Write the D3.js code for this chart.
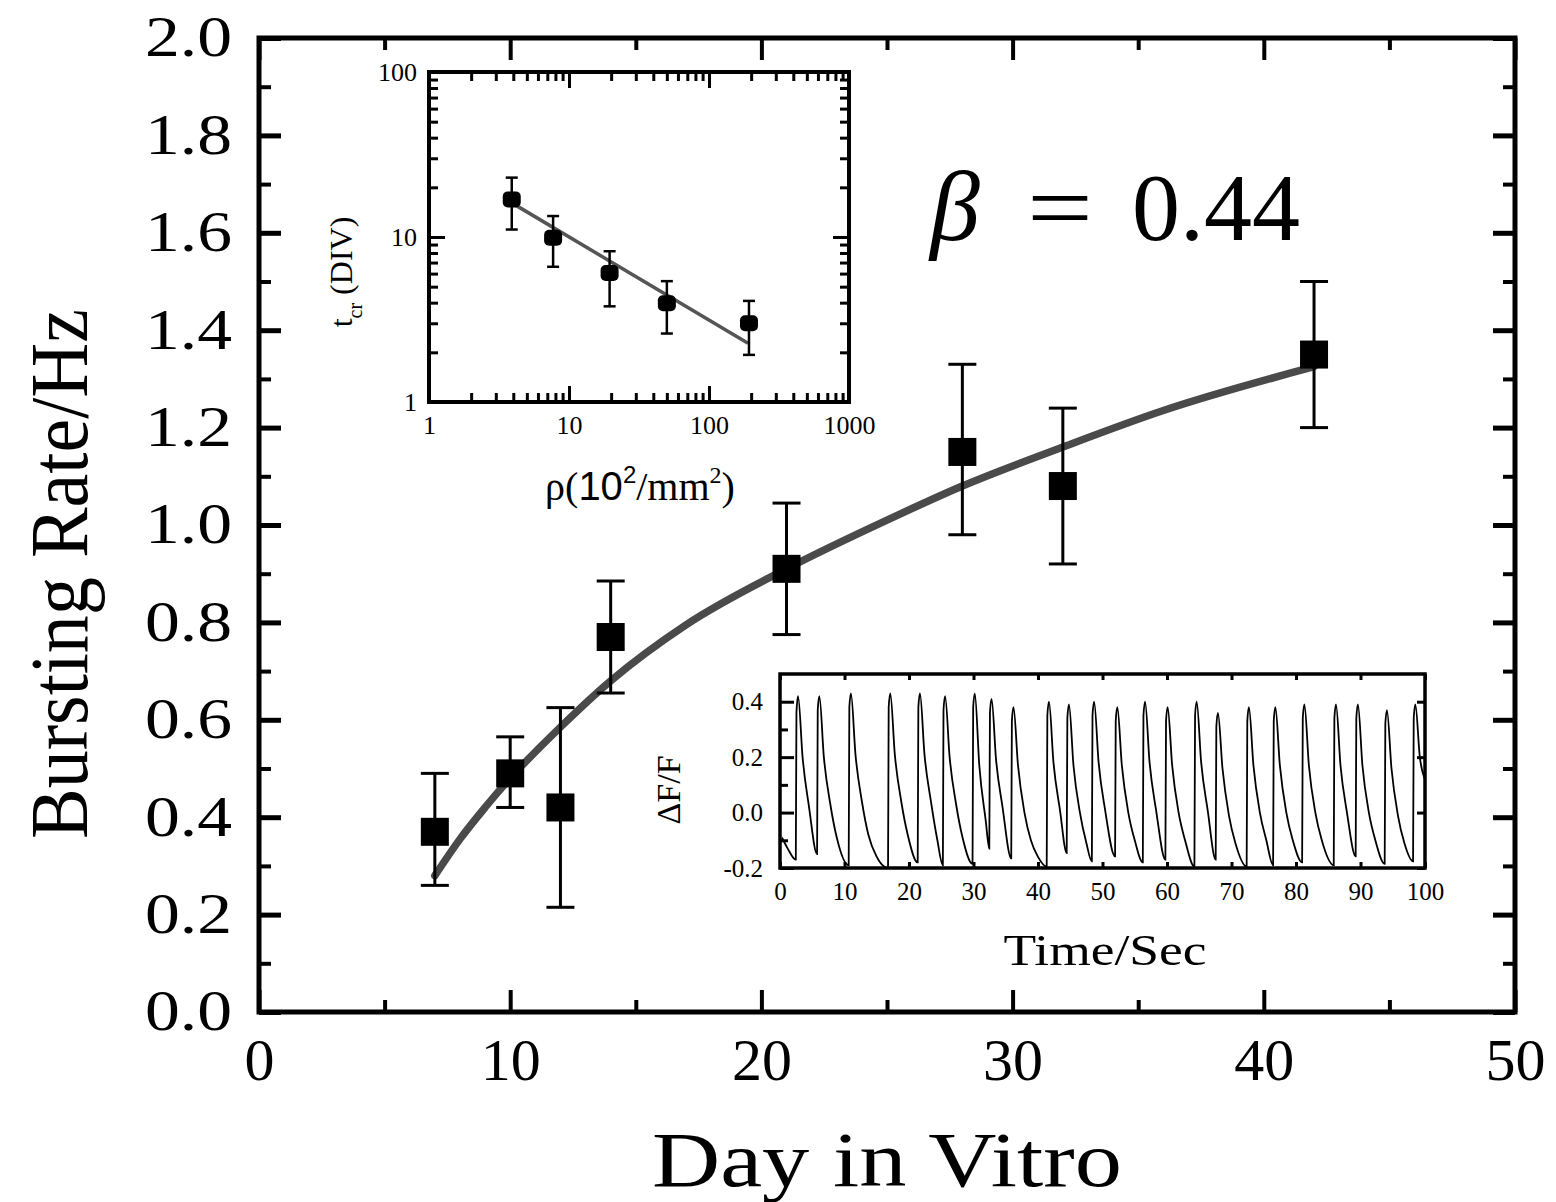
<!DOCTYPE html>
<html>
<head>
<meta charset="utf-8">
<script src="https://cdn.jsdelivr.net/npm/d3@7"></script>
<style>
body{margin:0;background:#fff;}
svg{display:block;background:#fff;}
text{fill:#000;}
</style>
</head>
<body>
<svg id="chart" width="1556" height="1202"></svg>
<script>
// main panel: bursting rate vs day in vitro
const days = [7, 10, 12, 14, 21, 28, 32, 42];
const rate = [0.37, 0.49, 0.42, 0.77, 0.91, 1.15, 1.08, 1.35];
const rateLo = [0.26, 0.42, 0.215, 0.655, 0.775, 0.98, 0.92, 1.20];
const rateHi = [0.49, 0.565, 0.625, 0.885, 1.045, 1.33, 1.24, 1.50];
const fitDay = [7, 8, 9, 10, 12, 14, 17, 21, 25, 28, 32, 36, 42];
const fitRate = [0.28, 0.355, 0.42, 0.48, 0.585, 0.68, 0.795, 0.91, 1.01, 1.08, 1.16, 1.235, 1.325];
const dayTicks = [0, 10, 20, 30, 40, 50];
const dayMinor = [5, 15, 25, 35, 45];
const rateTicks = [0, 0.2, 0.4, 0.6, 0.8, 1.0, 1.2, 1.4, 1.6, 1.8, 2.0];
const rateMinor = [0.1, 0.3, 0.5, 0.7, 0.9, 1.1, 1.3, 1.5, 1.7, 1.9];

// inset 1: t_cr vs density (log-log)
const density = [3.9, 7.7, 19.5, 50, 193];
const tcr = [16.9, 9.9, 6.05, 3.97, 3.0];
const tcrLo = [11.1, 6.6, 3.8, 2.6, 1.93];
const tcrHi = [22.9, 13.4, 8.2, 5.4, 4.1];
const lineDensity = [3.9, 190];
const lineTcr = [16.1, 2.27];
const decades = [1, 10, 100, 1000];
const logSteps = [2, 3, 4, 5, 6, 7, 8, 9];

// inset 2: calcium trace dF/F vs time, [sec, dF/F]
const trace = [
  [0.3,-0.09],[1.2,-0.13],[2.45,-0.17],
  [2.55,0.36],[2.8,0.42],[3.5,0.2],[4.5,0.02],[5.75,-0.15],
  [5.85,0.37],[6.1,0.42],[6.8,0.2],[7.8,0.03],[8.8,-0.09],[10.65,-0.19],
  [10.75,0.38],[11.0,0.43],[11.7,0.21],[12.7,0.04],[13.7,-0.08],[15.0,-0.16],[16.75,-0.2],
  [16.85,0.38],[17.1,0.43],[17.8,0.21],[18.8,0.04],[19.8,-0.08],[21.35,-0.18],
  [21.45,0.38],[21.7,0.43],[22.4,0.21],[23.4,0.04],[24.4,-0.1],[25.25,-0.19],
  [25.35,0.37],[25.6,0.42],[26.3,0.2],[27.3,0.03],[28.3,-0.09],[29.85,-0.185],
  [29.95,0.38],[30.2,0.43],[30.9,0.17],[31.9,-0.03],[32.45,-0.13],
  [32.55,0.36],[32.8,0.41],[33.5,0.19],[34.5,0.02],[35.85,-0.165],
  [35.95,0.33],[36.2,0.38],[36.9,0.17],[37.9,0.0],[38.9,-0.1],[40.0,-0.16],[41.35,-0.195],
  [41.45,0.35],[41.7,0.40],[42.4,0.18],[43.4,0.01],[44.45,-0.146],
  [44.55,0.34],[44.8,0.39],[45.5,0.17],[46.5,0.0],[47.5,-0.11],[48.35,-0.176],
  [48.45,0.35],[48.7,0.40],[49.4,0.18],[50.4,0.01],[51.95,-0.158],
  [52.05,0.33],[52.3,0.38],[53.0,0.17],[54.0,0.0],[55.0,-0.1],[56.25,-0.18],
  [56.35,0.35],[56.6,0.40],[57.3,0.18],[58.3,0.01],[59.75,-0.17],
  [59.85,0.33],[60.1,0.38],[60.8,0.17],[61.8,0.0],[62.8,-0.1],[64.25,-0.195],
  [64.35,0.35],[64.6,0.40],[65.3,0.18],[66.3,0.01],[67.55,-0.17],
  [67.65,0.31],[67.9,0.36],[68.6,0.16],[69.6,-0.01],[70.6,-0.11],[72.35,-0.195],
  [72.45,0.33],[72.7,0.38],[73.4,0.17],[74.4,0.0],[75.4,-0.1],[76.45,-0.19],
  [76.55,0.33],[76.8,0.38],[77.5,0.17],[78.5,0.0],[79.5,-0.1],[80.95,-0.18],
  [81.05,0.34],[81.3,0.39],[82.0,0.17],[83.0,0.0],[84.0,-0.1],[85.85,-0.19],
  [85.95,0.34],[86.2,0.39],[86.9,0.17],[87.9,0.0],[89.25,-0.158],
  [89.35,0.34],[89.6,0.39],[90.3,0.17],[91.3,0.0],[92.3,-0.1],[93.75,-0.185],
  [93.85,0.32],[94.1,0.37],[94.8,0.16],[95.8,-0.01],[96.8,-0.11],[98.15,-0.176],
  [98.25,0.34],[98.5,0.39],[99.2,0.2],[100,0.12]
];
const timeTicks = [0, 10, 20, 30, 40, 50, 60, 70, 80, 90, 100];
const dffTicks = [-0.2, 0.0, 0.2, 0.4];
const dffMinor = [-0.1, 0.1, 0.3];

const serif = "'Liberation Serif','Times New Roman',serif";
const sans = "'Liberation Sans',Arial,sans-serif";
const svg = d3.select("#chart");

// draws inward ticks for one side, optional labels
function side(g, axis, width) {
  g.call(axis);
  g.select(".domain").remove();
  g.selectAll(".tick line").attr("stroke", "#000").attr("stroke-width", width);
  g.attr("font-family", serif);
  return g;
}

// ---------- main panel ----------
const x = d3.scaleLinear().domain([0, 50]).range([259, 1515]);
const y = d3.scaleLinear().domain([0, 2]).range([1012, 38]);

const yl = side(svg.append("g").attr("transform", "translate(259,0)"),
  d3.axisLeft(y).tickValues(rateTicks).tickSize(-22).tickPadding(27).tickFormat(d3.format(".1f")), 5);
yl.attr("font-size", 56);
yl.selectAll("text").attr("textLength", 87).attr("lengthAdjust", "spacingAndGlyphs");
side(svg.append("g").attr("transform", "translate(259,0)"),
  d3.axisLeft(y).tickValues(rateMinor).tickSize(-12).tickFormat(""), 4);
side(svg.append("g").attr("transform", "translate(1515,0)"),
  d3.axisRight(y).tickValues(rateTicks).tickSize(-22).tickFormat(""), 5);
side(svg.append("g").attr("transform", "translate(1515,0)"),
  d3.axisRight(y).tickValues(rateMinor).tickSize(-12).tickFormat(""), 4);

const xb = side(svg.append("g").attr("transform", "translate(0,1012)"),
  d3.axisBottom(x).tickValues(dayTicks).tickSize(-22).tickPadding(25).tickFormat(d3.format("d")), 4);
xb.attr("font-size", 60);
side(svg.append("g").attr("transform", "translate(0,1012)"),
  d3.axisBottom(x).tickValues(dayMinor).tickSize(-12).tickFormat(""), 4);
side(svg.append("g").attr("transform", "translate(0,38)"),
  d3.axisTop(x).tickValues(dayTicks).tickSize(-22).tickFormat(""), 4);
side(svg.append("g").attr("transform", "translate(0,38)"),
  d3.axisTop(x).tickValues(dayMinor).tickSize(-12).tickFormat(""), 4);

svg.append("rect")
  .attr("x", x(0)).attr("y", y(2))
  .attr("width", x(50) - x(0)).attr("height", y(0) - y(2))
  .attr("fill", "none").attr("stroke", "#000").attr("stroke-width", 5);

// fit curve
const fitLine = d3.line().x(d => x(d[0])).y(d => y(d[1])).curve(d3.curveMonotoneX);
svg.append("path")
  .datum(fitDay.map((d, i) => [d, fitRate[i]]))
  .attr("d", fitLine)
  .attr("fill", "none").attr("stroke", "#4a4a4a").attr("stroke-width", 7.5).attr("stroke-linecap", "round");

// error bars and squares
const eb = svg.append("g").attr("stroke", "#000").attr("stroke-width", 3);
days.forEach((d, i) => {
  eb.append("line").attr("x1", x(d)).attr("x2", x(d)).attr("y1", y(rateLo[i])).attr("y2", y(rateHi[i]));
  [rateLo[i], rateHi[i]].forEach(v => {
    eb.append("line").attr("x1", x(d) - 14).attr("x2", x(d) + 14).attr("y1", y(v)).attr("y2", y(v));
  });
});
svg.append("g").selectAll("rect").data(days).join("rect")
  .attr("x", d => x(d) - 14).attr("y", (d, i) => y(rate[i]) - 14)
  .attr("width", 28).attr("height", 28).attr("fill", "#000");

// axis titles
svg.append("text")
  .attr("transform", "translate(87,574) rotate(-90)")
  .attr("text-anchor", "middle").attr("font-family", serif).attr("font-size", 82)
  .attr("textLength", 530).attr("lengthAdjust", "spacingAndGlyphs")
  .text("Bursting Rate/Hz");
svg.append("text")
  .attr("x", 887).attr("y", 1186)
  .attr("text-anchor", "middle").attr("font-family", serif).attr("font-size", 78)
  .attr("textLength", 470).attr("lengthAdjust", "spacingAndGlyphs")
  .text("Day in Vitro");

// beta annotation
svg.append("text").attr("x", 930).attr("y", 240)
  .attr("font-family", serif).attr("font-style", "italic").attr("font-size", 100).text("β");
svg.append("text").attr("x", 1027).attr("y", 240)
  .attr("font-family", serif).attr("font-size", 96)
  .attr("textLength", 66).attr("lengthAdjust", "spacingAndGlyphs").text("=");
svg.append("text").attr("x", 1132).attr("y", 240)
  .attr("font-family", serif).attr("font-size", 96)
  .attr("textLength", 168).attr("lengthAdjust", "spacingAndGlyphs").text("0.44");

// ---------- inset 1 ----------
const lx = d3.scaleLog().domain([1, 1000]).range([429, 849]);
const ly = d3.scaleLog().domain([1, 100]).range([402, 72]);
const minorX = decades.slice(0, 3).flatMap(d => logSteps.map(s => d * s));
const minorY = decades.slice(0, 2).flatMap(d => logSteps.map(s => d * s));

svg.append("rect")
  .attr("x", lx(1)).attr("y", ly(100))
  .attr("width", lx(1000) - lx(1)).attr("height", ly(1) - ly(100))
  .attr("fill", "#fff").attr("stroke", "#000").attr("stroke-width", 4);

const i1y = side(svg.append("g").attr("transform", `translate(${lx(1)},0)`),
  d3.axisLeft(ly).tickValues([1, 10, 100]).tickSize(-16).tickPadding(12).tickFormat(d3.format("d")), 3);
i1y.attr("font-size", 26);
side(svg.append("g").attr("transform", `translate(${lx(1)},0)`),
  d3.axisLeft(ly).tickValues(minorY).tickSize(-9).tickFormat(""), 3);
side(svg.append("g").attr("transform", `translate(${lx(1000)},0)`),
  d3.axisRight(ly).tickValues([1, 10, 100]).tickSize(-16).tickFormat(""), 3);
side(svg.append("g").attr("transform", `translate(${lx(1000)},0)`),
  d3.axisRight(ly).tickValues(minorY).tickSize(-9).tickFormat(""), 3);
const i1x = side(svg.append("g").attr("transform", `translate(0,${ly(1)})`),
  d3.axisBottom(lx).tickValues(decades).tickSize(-16).tickPadding(14).tickFormat(d3.format("d")), 3);
i1x.attr("font-size", 26);
side(svg.append("g").attr("transform", `translate(0,${ly(1)})`),
  d3.axisBottom(lx).tickValues(minorX).tickSize(-9).tickFormat(""), 3);
side(svg.append("g").attr("transform", `translate(0,${ly(100)})`),
  d3.axisTop(lx).tickValues(decades).tickSize(-16).tickFormat(""), 3);
side(svg.append("g").attr("transform", `translate(0,${ly(100)})`),
  d3.axisTop(lx).tickValues(minorX).tickSize(-9).tickFormat(""), 3);

svg.append("line")
  .attr("x1", lx(lineDensity[0])).attr("y1", ly(lineTcr[0]))
  .attr("x2", lx(lineDensity[1])).attr("y2", ly(lineTcr[1]))
  .attr("stroke", "#555").attr("stroke-width", 3.5);

const eb1 = svg.append("g").attr("stroke", "#000").attr("stroke-width", 2.5);
density.forEach((d, i) => {
  eb1.append("line").attr("x1", lx(d)).attr("x2", lx(d)).attr("y1", ly(tcrLo[i])).attr("y2", ly(tcrHi[i]));
  [tcrLo[i], tcrHi[i]].forEach(v => {
    eb1.append("line").attr("x1", lx(d) - 6).attr("x2", lx(d) + 6).attr("y1", ly(v)).attr("y2", ly(v));
  });
});
svg.append("g").selectAll("rect").data(density).join("rect")
  .attr("x", d => lx(d) - 9).attr("y", (d, i) => ly(tcr[i]) - 8)
  .attr("width", 18).attr("height", 16).attr("rx", 5).attr("fill", "#000");

const t1 = svg.append("text")
  .attr("transform", "translate(352,272) rotate(-90)")
  .attr("text-anchor", "middle").attr("font-family", serif).attr("font-size", 32);
t1.append("tspan").text("t");
t1.append("tspan").attr("font-size", 20).attr("dy", 10).text("cr");
t1.append("tspan").attr("dy", -10).text(" (DIV)");

const rho = svg.append("text")
  .attr("x", 640).attr("y", 500).attr("text-anchor", "middle")
  .attr("font-family", serif).attr("font-size", 40);
rho.append("tspan").text("ρ(");
rho.append("tspan").attr("font-family", sans).text("10");
rho.append("tspan").attr("font-family", sans).attr("font-size", 24).attr("dy", -17).text("2");
rho.append("tspan").attr("dy", 17).text("/mm");
rho.append("tspan").attr("font-size", 24).attr("dy", -17).text("2");
rho.append("tspan").attr("dy", 17).text(")");

// ---------- inset 2 ----------
const tx = d3.scaleLinear().domain([0, 100]).range([780, 1425]);
const ty = d3.scaleLinear().domain([-0.2, 0.5]).range([868, 674]);

svg.append("rect")
  .attr("x", tx(0)).attr("y", ty(0.5))
  .attr("width", tx(100) - tx(0)).attr("height", ty(-0.2) - ty(0.5))
  .attr("fill", "#fff").attr("stroke", "none");

svg.append("defs").append("clipPath").attr("id", "clipTrace")
  .append("rect").attr("x", tx(0)).attr("y", ty(0.5))
  .attr("width", tx(100) - tx(0)).attr("height", ty(-0.2) - ty(0.5));

const traceLine = d3.line().x(d => tx(d[0])).y(d => ty(d[1])).curve(d3.curveMonotoneX);
svg.append("path")
  .datum(trace)
  .attr("d", traceLine)
  .attr("clip-path", "url(#clipTrace)")
  .attr("fill", "none").attr("stroke", "#000").attr("stroke-width", 1.8);

const i2y = side(svg.append("g").attr("transform", `translate(${tx(0)},0)`),
  d3.axisLeft(ty).tickValues(dffTicks).tickSize(-14).tickPadding(17).tickFormat(d3.format(".1f")), 3);
i2y.attr("font-size", 25);
i2y.selectAll("text").text(d => d3.format(".1f")(d).replace("−", "-"));
side(svg.append("g").attr("transform", `translate(${tx(0)},0)`),
  d3.axisLeft(ty).tickValues(dffMinor).tickSize(-8).tickFormat(""), 3);
side(svg.append("g").attr("transform", `translate(${tx(100)},0)`),
  d3.axisRight(ty).tickValues(dffTicks).tickSize(-8).tickFormat(""), 3);
const i2x = side(svg.append("g").attr("transform", `translate(0,${ty(-0.2)})`),
  d3.axisBottom(tx).tickValues(timeTicks).tickSize(-6).tickPadding(14).tickFormat(d3.format("d")), 3);
i2x.attr("font-size", 25);
side(svg.append("g").attr("transform", `translate(0,${ty(0.5)})`),
  d3.axisTop(tx).tickValues(timeTicks).tickSize(-6).tickFormat(""), 3);

svg.append("rect")
  .attr("x", tx(0)).attr("y", ty(0.5))
  .attr("width", tx(100) - tx(0)).attr("height", ty(-0.2) - ty(0.5))
  .attr("fill", "none").attr("stroke", "#000").attr("stroke-width", 3.5);

svg.append("text")
  .attr("transform", "translate(680,790) rotate(-90)")
  .attr("text-anchor", "middle").attr("font-family", serif).attr("font-size", 34)
  .text("ΔF/F");
svg.append("text")
  .attr("x", 1105).attr("y", 965).attr("text-anchor", "middle")
  .attr("font-family", serif).attr("font-size", 44)
  .attr("textLength", 203).attr("lengthAdjust", "spacingAndGlyphs")
  .text("Time/Sec");
</script>
</body>
</html>
